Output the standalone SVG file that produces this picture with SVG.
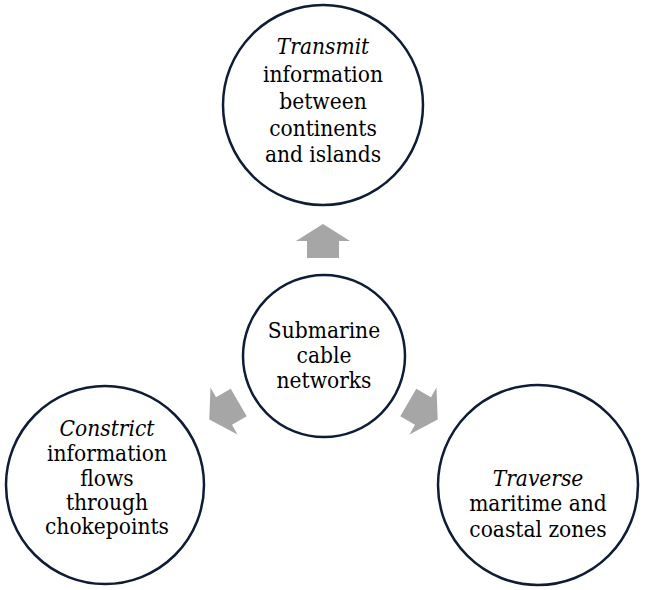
<svg xmlns="http://www.w3.org/2000/svg" width="648" height="590" viewBox="0 0 648 590">
<style>
.c{fill:#fff;stroke:#0f1c36;stroke-width:2.5}
.t{font-family:'DejaVu Serif',serif;font-stretch:condensed;font-size:22.5px;fill:#000;text-anchor:middle}
.i{font-style:italic}
.a{fill:#a6a6a6}
</style>
<defs>
<path id="arr" d="M0,-17 L27,0 L16,0 L16,17 L-16,17 L-16,0 L-27,0 Z"/>
</defs>
<rect width="648" height="590" fill="#fff"/>
<g id="connectors">
<use href="#arr" class="a" transform="translate(323,241)"/>
<use href="#arr" class="a" transform="translate(224,411) rotate(-120)"/>
<use href="#arr" class="a" transform="translate(423,411) rotate(120)"/>
</g>
<g id="node-top">
<circle class="c" cx="323" cy="105" r="100"/>
<text class="t"><tspan class="i" x="323" y="54">Transmit</tspan><tspan x="323" y="82">information</tspan><tspan x="323" y="109">between</tspan><tspan x="323" y="136">continents</tspan><tspan x="323" y="162">and islands</tspan></text>
</g>
<g id="node-center">
<circle class="c" cx="324" cy="356" r="81"/>
<text class="t"><tspan x="324" y="338">Submarine</tspan><tspan x="324" y="363">cable</tspan><tspan x="324" y="388">networks</tspan></text>
</g>
<g id="node-left">
<circle class="c" cx="105" cy="485" r="99"/>
<text class="t"><tspan class="i" x="107" y="436">Constrict</tspan><tspan x="107" y="461">information</tspan><tspan x="107" y="486">flows</tspan><tspan x="107" y="510">through</tspan><tspan x="107" y="534">chokepoints</tspan></text>
</g>
<g id="node-right">
<circle class="c" cx="538" cy="485" r="100"/>
<text class="t"><tspan class="i" x="538" y="486">Traverse</tspan><tspan x="538" y="511">maritime and</tspan><tspan x="538" y="537">coastal zones</tspan></text>
</g>
</svg>
